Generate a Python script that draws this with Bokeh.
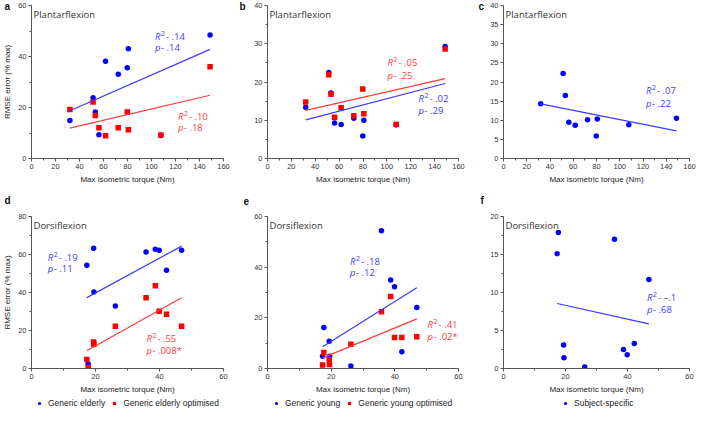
from bokeh.plotting import figure
from bokeh.models import Range1d, SingleIntervalTicker, Label, Legend, LegendItem
from bokeh.layouts import column, row
from bokeh.embed import file_html
from bokeh.resources import INLINE

# ---------------- data ----------------
PF_TORQUE = [32.0, 51.3, 53.2, 56.2, 61.7, 72.3, 79.8, 80.7, 107.8, 148.8]
DF_TORQUE = [17.3, 17.7, 19.4, 19.5, 26.2, 35.8, 38.7, 39.9, 42.2, 46.9]

pf_elderly = [14.9, 23.8, 18.2, 9.3, 38.1, 33.0, 35.6, 43.0, 9.0, 48.4]
pf_elderly_opt = [19.2, 22.2, 16.9, 12.1, 8.9, 12.1, 18.2, 11.3, 9.2, 36.0]
pf_young = [13.4, 22.5, 17.1, 9.3, 8.9, 10.5, 5.9, 10.0, 8.8, 29.3]
pf_young_opt = [14.8, 21.9, 16.8, 10.8, 13.3, 11.2, 18.2, 11.7, 8.9, 28.6]
pf_subject = [14.3, 22.2, 16.5, 9.5, 8.7, 10.1, 5.9, 10.3, 8.8, 10.5]

df_elderly = [54.4, 2.5, 63.3, 40.2, 32.9, 61.3, 62.7, 62.2, 51.7, 62.2]
df_elderly_opt = [4.7, 0.5, 14.0, 12.7, 22.3, 37.3, 43.6, 30.1, 28.5, 22.3]
df_young = [4.8, 16.2, 10.8, 4.8, 1.0, 54.4, 34.9, 32.3, 6.6, 24.1]
df_young_opt = [1.4, 6.3, 3.5, 1.6, 9.6, 22.4, 28.4, 12.2, 12.2, 12.5]
df_subject = [15.1, 17.9, 3.1, 1.4, 0.2, 17.0, 2.5, 1.8, 3.3, 11.7]

# regression line values at min / max torque
fit_pf_elderly = [18.7, 42.8]
fit_pf_elderly_opt = [11.9, 24.8]
fit_pf_young = [10.1, 19.6]
fit_pf_young_opt = [12.6, 20.9]
fit_pf_subject = [14.3, 7.2]
fit_df_elderly = [37.3, 64.4]
fit_df_elderly_opt = [9.3, 37.2]
fit_df_young = [8.6, 31.9]
fit_df_young_opt = [4.2, 19.6]
fit_df_subject = [8.55, 5.87]

# R^2 and p labels
stats_a = {"blue": (".14", ".14"), "red": (".10", ".18")}
stats_b = {"red": (".05", ".25"), "blue": (".02", ".29")}
stats_c = {"blue": (".07", ".22")}
stats_d = {"blue": (".19", ".11"), "red": (".55", ".008*")}
stats_e = {"blue": (".18", ".12"), "red": (".41", ".02*")}
stats_f = {"blue": ("\u2013.1", ".68")}

legend_d = ["Generic elderly", "Generic elderly optimised"]
legend_e = ["Generic young", "Generic young optimised"]
legend_f = ["Subject-specific"]

# ---------------- style ----------------
BLUE = "#0000ff"
RED = "#ff0000"
BLUE_L = "#3b3bff"
RED_L = "#ff3b3b"
AX = "#555555"
TICK_FONT = "Liberation Sans"
NOTE_FONT = "Open Sans"


def base_fig(xmax, xstep, ymax, ystep, yminor, fw, fh, bl, br, bt, bb, ylabel):
    p = figure(frame_width=fw, frame_height=fh,
               x_range=Range1d(0, xmax), y_range=Range1d(0, ymax),
               output_backend="svg", toolbar_location=None, tools="")
    p.min_border_left = bl
    p.min_border_right = br
    p.min_border_top = bt
    p.min_border_bottom = bb
    p.outline_line_color = None
    p.grid.visible = False
    p.xaxis.ticker = SingleIntervalTicker(interval=xstep, num_minor_ticks=2)
    p.yaxis.ticker = SingleIntervalTicker(interval=ystep, num_minor_ticks=yminor)
    for ax in (p.xaxis[0], p.yaxis[0]):
        ax.axis_line_color = AX
        ax.major_tick_line_color = AX
        ax.minor_tick_line_color = AX
        ax.major_tick_out = 3
        ax.major_tick_in = 0
        ax.minor_tick_out = 2
        ax.minor_tick_in = 0
        ax.major_label_text_font = TICK_FONT
        ax.major_label_text_font_size = "7.5px"
        ax.major_label_text_color = "#333333"
        ax.major_label_standoff = 2
        ax.axis_label_text_font = TICK_FONT
        ax.axis_label_text_font_size = "8px"
        ax.axis_label_text_font_style = "normal"
        ax.axis_label_text_color = "#222222"
        ax.axis_label_standoff = 3
    p.xaxis.axis_label = "Max isometric torque (Nm)"
    if ylabel:
        p.yaxis.axis_label = "RMSE error (% max)"
    return p


def add_title(p, text, ymax):
    p.add_layout(Label(x=0, y=ymax, x_offset=2, y_offset=-2, text=text,
                       text_font=NOTE_FONT, text_font_size="9.5px",
                       text_color="#333333", text_baseline="top", text_align="left"))


def add_letter(p, letter, ymax, xoff, yoff, baseline):
    # placed in the (roomy) right side panel so that it is not clipped to the frame
    p.add_layout(Label(x=0, y=ymax, x_offset=xoff, y_offset=yoff, text=letter,
                       text_font=TICK_FONT, text_font_size="10px", text_font_style="bold",
                       text_color="#111111", text_baseline=baseline, text_align="left"),
                 "right")


def add_stat(p, x, y_r, y_p, r2, pv, color):
    c = dict(text_color=color, text_font=NOTE_FONT, text_baseline="middle", text_align="left")
    p.add_layout(Label(x=x, y=y_r, text="R", text_font_style="italic", text_font_size="9.5px", **c))
    p.add_layout(Label(x=x, y=y_r, x_offset=6, y_offset=3, text="2", text_font_size="7px", **c))
    p.add_layout(Label(x=x, y=y_r, x_offset=11, text="- " + r2, text_font_size="9.5px", **c))
    p.add_layout(Label(x=x, y=y_p, text="p", text_font_style="italic", text_font_size="9.5px", **c))
    p.add_layout(Label(x=x, y=y_p, x_offset=6, text="- " + pv, text_font_size="9.5px", **c))


def series(p, xs, ys, kind, color):
    return p.scatter(xs, ys, marker=kind, size=5.5, fill_color=color, line_color=None)


def fit(p, xs, vals, color):
    p.line([min(xs), max(xs)], vals, line_color=color, line_width=1.2)


# ---------------- top row ----------------
F1, F2 = 153, 152
pa = base_fig(160, 20, 60, 20, 2, 192, F1, 28, 8, 5, 26, True)
series(pa, PF_TORQUE, pf_elderly, "circle", BLUE)
series(pa, PF_TORQUE, pf_elderly_opt, "square", RED)
fit(pa, PF_TORQUE, fit_pf_elderly, BLUE_L)
fit(pa, PF_TORQUE, fit_pf_elderly_opt, RED_L)
add_title(pa, "Plantarflexion", 60)
add_stat(pa, 103, 47.7, 43.5, *stats_a["blue"], BLUE_L)
add_stat(pa, 122, 16.5, 12.3, *stats_a["red"], RED_L)
add_letter(pa, "a", 60, -27, 5, "top")

pb = base_fig(160, 20, 40, 10, 2, 191, F1, 36, 8, 5, 26, False)
series(pb, PF_TORQUE, pf_young, "circle", BLUE)
series(pb, PF_TORQUE, pf_young_opt, "square", RED)
fit(pb, PF_TORQUE, fit_pf_young, BLUE_L)
fit(pb, PF_TORQUE, fit_pf_young_opt, RED_L)
add_title(pb, "Plantarflexion", 40)
add_stat(pb, 100.6, 25.0, 21.7, *stats_b["red"], RED_L)
add_stat(pb, 126.5, 15.7, 12.5, *stats_b["blue"], BLUE_L)
add_letter(pb, "b", 40, -28, 5, "top")

pc = base_fig(160, 20, 40, 5, 0, 186, F1, 37, 7, 5, 26, False)
series(pc, PF_TORQUE, pf_subject, "circle", BLUE)
fit(pc, PF_TORQUE, fit_pf_subject, BLUE_L)
add_title(pc, "Plantarflexion", 40)
add_stat(pc, 122.6, 17.8, 14.5, *stats_c["blue"], BLUE_L)
add_letter(pc, "c", 40, -25, 5, "top")

# ---------------- bottom row ----------------
pd_ = base_fig(60, 20, 80, 20, 2, 192, F2, 28, 8, 30, 26, True)
series(pd_, DF_TORQUE, df_elderly, "circle", BLUE)
series(pd_, DF_TORQUE, df_elderly_opt, "square", RED)
fit(pd_, DF_TORQUE, fit_df_elderly, BLUE_L)
fit(pd_, DF_TORQUE, fit_df_elderly_opt, RED_L)
add_title(pd_, "Dorsiflexion", 80)
add_stat(pd_, 5.1, 58.6, 52.4, *stats_d["blue"], BLUE_L)
add_stat(pd_, 35.9, 15.9, 9.3, *stats_d["red"], RED_L)
add_letter(pd_, "d", 80, -27, 16, "middle")

pe = base_fig(60, 20, 60, 20, 2, 191, F2, 36, 8, 30, 26, False)
series(pe, DF_TORQUE, df_young, "circle", BLUE)
series(pe, DF_TORQUE, df_young_opt, "square", RED)
fit(pe, DF_TORQUE, fit_df_young, BLUE_L)
fit(pe, DF_TORQUE, fit_df_young_opt, RED_L)
add_title(pe, "Dorsiflexion", 60)
add_stat(pe, 25.9, 42.4, 38.0, *stats_e["blue"], BLUE_L)
add_stat(pe, 50.3, 17.5, 12.7, *stats_e["red"], RED_L)
add_letter(pe, "e", 60, -24, 16, "middle")

pf = base_fig(60, 20, 20, 5, 2, 186, F2, 37, 7, 30, 26, False)
series(pf, DF_TORQUE, df_subject, "circle", BLUE)
fit(pf, DF_TORQUE, fit_df_subject, BLUE_L)
add_title(pf, "Dorsiflexion", 20)
add_stat(pf, 46.3, 9.3, 7.8, *stats_f["blue"], BLUE_L)
add_letter(pf, "f", 20, -23, 16, "middle")

# ---------------- legend strip ----------------
# Proxy renderers plot the same data into a strip whose ranges keep them out of view;
# the strip only shows the three legends.
lg = figure(width=693, height=14, x_range=Range1d(-1, 0), y_range=Range1d(-1, 0),
            x_axis_location=None, y_axis_location=None,
            output_backend="svg", toolbar_location=None, tools="")
lg.min_border = 0
lg.outline_line_color = None
lg.grid.visible = False


def strip_legend(labels, xs, ys_list, kinds, colors, loc):
    items = []
    for lab, ys, kind, col in zip(labels, ys_list, kinds, colors):
        r = lg.scatter(xs, ys, marker=kind, size=4.5, fill_color=col, line_color=None)
        items.append(LegendItem(label=lab, renderers=[r]))
    leg = Legend(items=items, orientation="horizontal", location=loc,
                 border_line_color=None, background_fill_alpha=0,
                 label_text_font=TICK_FONT, label_text_font_size="8.5px",
                 label_text_color="#222222", glyph_width=8, glyph_height=8,
                 label_standoff=5, spacing=5, padding=0, margin=0, label_height=9)
    lg.add_layout(leg)


strip_legend(legend_d, DF_TORQUE, [df_elderly, df_elderly_opt], ["circle", "square"], [BLUE, RED], (35, 2))
strip_legend(legend_e, DF_TORQUE, [df_young, df_young_opt], ["circle", "square"], [BLUE, RED], (272, 2))
strip_legend(legend_f, DF_TORQUE, [df_subject], ["circle"], [BLUE], (561, 2))

layout = column(row(pa, pb, pc), row(pd_, pe, pf), lg)
open("out.html", "w").write(file_html(layout, INLINE))
